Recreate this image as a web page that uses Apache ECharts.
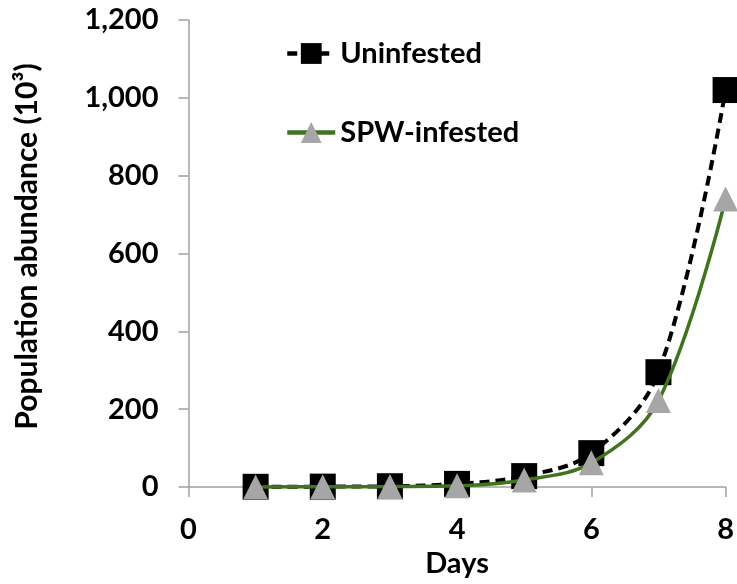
<!DOCTYPE html>
<html>
<head>
<meta charset="utf-8">
<script src="https://cdn.jsdelivr.net/npm/echarts@6/dist/echarts.min.js"></script>
<style>
  html, body { margin: 0; padding: 0; background: #fff; }
  #main { width: 737px; height: 584px; }
</style>
</head>
<body>
<div id="main"></div>
<script>
// data (population in 10^3)
var days = [1, 2, 3, 4, 5, 6, 7, 8];
var uninfested = [0.5, 1, 2, 8, 28, 87, 295, 1020];
var spwInfested = [0.3, 0.5, 1, 3, 18, 62, 222, 740];
var seriesNames = ['Uninfested', 'SPW-infested'];

var font = 'Lato';
var green = '#3f731f';

function pairs(ys) {
  return days.map(function (d, i) { return [d, ys[i]]; });
}

var chart = echarts.init(document.getElementById('main'));
chart.setOption({
  animation: false,
  backgroundColor: '#ffffff',
  grid: { left: 188.5, top: 20, right: 10, bottom: 97, containLabel: false },
  legend: {
    orient: 'vertical',
    left: 280,
    top: 34,
    itemWidth: 48,
    itemHeight: 26,
    itemGap: 50,
    data: seriesNames,
    lineStyle: { width: 4.5 },
    textStyle: { fontFamily: font, fontWeight: 'bold', fontSize: 29, color: '#000', lineHeight: 26 }
  },
  xAxis: {
    type: 'value',
    min: 0,
    max: 8,
    interval: 2,
    name: 'Days',
    nameLocation: 'middle',
    nameGap: 58,
    nameTextStyle: { fontFamily: font, fontWeight: 'bold', fontSize: 29, color: '#000' },
    axisLine: { lineStyle: { color: '#a0a0a0', width: 1.5 } },
    axisTick: { show: true, length: 10, lineStyle: { color: '#a0a0a0', width: 1.5 } },
    axisLabel: { margin: 28, fontFamily: font, fontWeight: 'bold', fontSize: 29, color: '#000' },
    splitLine: { show: false }
  },
  yAxis: {
    type: 'value',
    min: 0,
    max: 1200,
    interval: 200,
    name: 'Population abundance (10³)',
    nameLocation: 'middle',
    nameGap: 146,
    nameTextStyle: { fontFamily: font, fontWeight: 'bold', fontSize: 30, color: '#000', padding: [0, 0, 0, 14] },
    axisLine: { show: true, lineStyle: { color: '#a0a0a0', width: 1.5 } },
    axisTick: { show: true, length: 10, lineStyle: { color: '#a0a0a0', width: 1.5 } },
    axisLabel: {
      margin: 30, fontFamily: font, fontWeight: 'bold', fontSize: 29, color: '#000',
      formatter: function (v) { return v.toLocaleString('en-US'); }
    },
    splitLine: { show: false }
  },
  series: [
    {
      name: seriesNames[0],
      type: 'line',
      data: pairs(uninfested),
      smooth: 0.35,
      symbol: 'rect',
      symbolSize: 26,
      clip: false,
      itemStyle: { color: '#000000' },
      lineStyle: { color: '#000000', width: 4, type: [10, 6] },
      z: 2
    },
    {
      name: seriesNames[1],
      type: 'line',
      data: pairs(spwInfested),
      smooth: 0.35,
      symbol: 'triangle',
      symbolSize: 25,
      clip: false,
      itemStyle: { color: '#a6a6a6' },
      lineStyle: { color: green, width: 3.5 },
      z: 3
    }
  ]
});
</script>
</body>
</html>
